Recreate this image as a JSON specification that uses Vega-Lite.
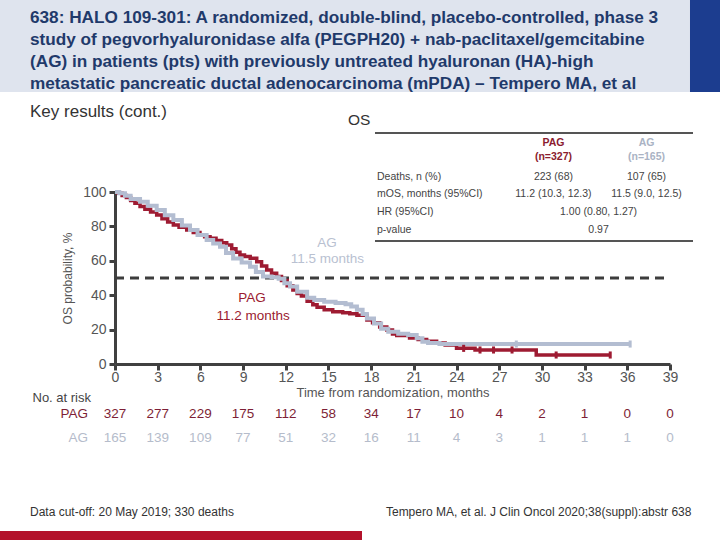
{
  "$schema": "https://vega.github.io/schema/vega-lite/v6.json",
  "width": 555,
  "height": 172,
  "autosize": {"type": "none"},
  "padding": {"left": 115, "top": 192, "right": 50, "bottom": 176},
  "background": "white",
  "config": {"view": {"stroke": null}, "font": "Liberation Sans"},
  "encoding": {
    "x": {"field": "x", "type": "quantitative", "scale": {"domain": [0, 39], "nice": false, "zero": false},
      "axis": {"values": [0, 3, 6, 9, 12, 15, 18, 21, 24, 27, 30, 33, 36, 39], "title": "Time from randomization, months", "grid": false,
        "domainColor": "#404040", "domainWidth": 3, "tickColor": "#404040", "tickWidth": 3, "tickSize": 6,
        "labelFont": "Liberation Sans", "labelFontSize": 14, "labelColor": "#555555", "labelPadding": 0, "labelFlush": false,
        "titleFont": "Liberation Sans", "titleFontSize": 13, "titleFontWeight": "normal", "titleColor": "#555555", "titlePadding": 2}},
    "y": {"field": "y", "type": "quantitative", "scale": {"domain": [0, 100], "nice": false},
      "axis": {"values": [0, 20, 40, 60, 80, 100], "title": "OS probability, %", "grid": false,
        "domainColor": "#404040", "domainWidth": 3, "tickColor": "#404040", "tickWidth": 3, "tickSize": 6,
        "labelFont": "Liberation Sans", "labelFontSize": 14, "labelColor": "#555555", "labelPadding": 3,
        "titleFont": "Liberation Sans", "titleFontSize": 12, "titleFontWeight": "normal", "titleColor": "#555555", "titlePadding": 8}}
  },
  "layer": [
    {"data": {"values": [{"x": -8.081, "x2": 40.405, "y": 158.14, "y2": 211.63}]},
     "mark": {"type": "rect", "color": "#dfe4ee", "clip": false},
     "encoding": {"x2": {"field": "x2"}, "y2": {"field": "y2"}}},
    {"data": {"values": [{"x": 40.405, "x2": 42.514, "y": 158.14, "y2": 211.63}]},
     "mark": {"type": "rect", "color": "#1c3d8f", "clip": false},
     "encoding": {"x2": {"field": "x2"}, "y2": {"field": "y2"}}},
    {"data": {"values": [
      {"x": -5.973, "y": 201.16, "text": "638: HALO 109-301: A randomized, double-blind, placebo-controlled, phase 3"},
      {"x": -5.973, "y": 188.37, "text": "study of pegvorhyaluronidase alfa (PEGPH20) + nab-paclitaxel/gemcitabine"},
      {"x": -5.973, "y": 175.58, "text": "(AG) in patients (pts) with previously untreated hyaluronan (HA)-high"},
      {"x": -5.973, "y": 162.79, "text": "metastatic pancreatic ductal adenocarcinoma (mPDA) – Tempero MA, et al"}]},
     "mark": {"type": "text", "align": "left", "baseline": "middle", "fontSize": 17.2, "fontWeight": "bold", "color": "#1f3a6b", "clip": false},
     "encoding": {"text": {"field": "text"}}},
    {"data": {"values": [{"x": -5.973, "y": 146.51, "text": "Key results (cont.)"}]},
     "mark": {"type": "text", "align": "left", "baseline": "middle", "fontSize": 17, "color": "#333333", "clip": false},
     "encoding": {"text": {"field": "text"}}},
    {"data": {"values": [{"x": 16.373, "y": 141.86, "text": "OS"}]},
     "mark": {"type": "text", "align": "left", "baseline": "middle", "fontSize": 15.5, "color": "#333333", "clip": false},
     "encoding": {"text": {"field": "text"}}},
    {"data": {"values": [{"x": 18.27, "x2": 40.616, "y": 134.3}, {"x": 18.27, "x2": 40.616, "y": 71.51}]},
     "mark": {"type": "rule", "color": "#555555", "strokeWidth": 2, "clip": false},
     "encoding": {"x2": {"field": "x2"}}},
    {"data": {"values": [{"x": 30.81, "y": 128.31, "text": "PAG"}, {"x": 30.81, "y": 120.52, "text": "(n=327)"}]},
     "mark": {"type": "text", "align": "center", "baseline": "middle", "fontSize": 10.5, "fontWeight": "bold", "color": "#8b1c2f", "clip": false},
     "encoding": {"text": {"field": "text"}}},
    {"data": {"values": [{"x": 37.35, "y": 128.31, "text": "AG"}, {"x": 37.35, "y": 120.52, "text": "(n=165)"}]},
     "mark": {"type": "text", "align": "center", "baseline": "middle", "fontSize": 10.5, "fontWeight": "bold", "color": "#aab3c4", "clip": false},
     "encoding": {"text": {"field": "text"}}},
    {"data": {"values": [
      {"x": 18.41, "y": 108.9, "text": "Deaths, n (%)"},
      {"x": 18.41, "y": 98.66, "text": "mOS, months (95%CI)"},
      {"x": 18.41, "y": 88.55, "text": "HR (95%CI)"},
      {"x": 18.41, "y": 77.91, "text": "p-value"}]},
     "mark": {"type": "text", "align": "left", "baseline": "middle", "fontSize": 10.5, "color": "#444444", "clip": false},
     "encoding": {"text": {"field": "text"}}},
    {"data": {"values": [
      {"x": 30.81, "y": 108.9, "text": "223 (68)"},
      {"x": 37.35, "y": 108.9, "text": "107 (65)"},
      {"x": 30.81, "y": 98.66, "text": "11.2 (10.3, 12.3)"},
      {"x": 37.35, "y": 98.66, "text": "11.5 (9.0, 12.5)"},
      {"x": 33.98, "y": 88.55, "text": "1.00 (0.80, 1.27)"},
      {"x": 33.98, "y": 77.91, "text": "0.97"}]},
     "mark": {"type": "text", "align": "center", "baseline": "middle", "fontSize": 10.5, "color": "#444444", "clip": false},
     "encoding": {"text": {"field": "text"}}},
    {"data": {"values": [{"x": 14.9, "y": 70.52, "text": "AG"}, {"x": 14.93, "y": 61.05, "text": "11.5 months"}]},
     "mark": {"type": "text", "align": "center", "baseline": "middle", "fontSize": 13.5, "color": "#b9c1d1", "clip": false},
     "encoding": {"text": {"field": "text"}}},
    {"data": {"values": [{"x": 9.63, "y": 38.37, "text": "PAG"}, {"x": 9.7, "y": 27.91, "text": "11.2 months"}]},
     "mark": {"type": "text", "align": "center", "baseline": "middle", "fontSize": 13.5, "color": "#9b1b30", "clip": false},
     "encoding": {"text": {"field": "text"}}},
    {"data": {"values": [{"x": 0, "x2": 38.8, "y": 50}]},
     "mark": {"type": "rule", "color": "#3d3d3d", "strokeWidth": 3, "strokeDash": [9, 6], "clip": false},
     "encoding": {"x2": {"field": "x2"}}},
    {"data": {"values": [
      {"x": 0, "y": 100}, {"x": 0.2, "y": 99.3}, {"x": 0.5, "y": 98}, {"x": 0.8, "y": 96.8}, {"x": 1.1, "y": 95}, {"x": 1.4, "y": 93.5},
      {"x": 1.76, "y": 91.5}, {"x": 2.1, "y": 90}, {"x": 2.5, "y": 88.4}, {"x": 2.93, "y": 86.6}, {"x": 3.3, "y": 84.5}, {"x": 3.7, "y": 82.5},
      {"x": 4.1, "y": 80.8}, {"x": 4.5, "y": 79.5}, {"x": 5.04, "y": 77.9}, {"x": 5.5, "y": 76.5}, {"x": 5.97, "y": 75}, {"x": 6.3, "y": 74},
      {"x": 6.68, "y": 73.1}, {"x": 7.1, "y": 71.8}, {"x": 7.5, "y": 70.5}, {"x": 7.85, "y": 69.2}, {"x": 8.2, "y": 67}, {"x": 8.5, "y": 65},
      {"x": 8.78, "y": 63.4}, {"x": 9.1, "y": 62.5}, {"x": 9.5, "y": 61.5}, {"x": 9.96, "y": 59.5}, {"x": 10.3, "y": 57}, {"x": 10.66, "y": 54.7},
      {"x": 11.0, "y": 52.8}, {"x": 11.36, "y": 50.8}, {"x": 11.7, "y": 48.5}, {"x": 12.1, "y": 45.5}, {"x": 12.5, "y": 43}, {"x": 12.8, "y": 41},
      {"x": 13.1, "y": 39.5}, {"x": 13.5, "y": 36.5}, {"x": 13.9, "y": 34.5}, {"x": 14.2, "y": 33}, {"x": 14.7, "y": 31.5}, {"x": 15.3, "y": 30.4},
      {"x": 16.0, "y": 29.8}, {"x": 16.5, "y": 29.2}, {"x": 17.0, "y": 28.3}, {"x": 17.7, "y": 25.6}, {"x": 18.1, "y": 24}, {"x": 18.6, "y": 21.5},
      {"x": 19.1, "y": 19.8}, {"x": 19.5, "y": 17.5}, {"x": 19.8, "y": 16.5}, {"x": 20.7, "y": 15.1}, {"x": 21.3, "y": 14.2}, {"x": 21.9, "y": 13.2},
      {"x": 22.6, "y": 12.2}, {"x": 23.2, "y": 11.05}, {"x": 24.0, "y": 9.1}, {"x": 25.3, "y": 8.14}, {"x": 29.6, "y": 5.23}, {"x": 34.8, "y": 5.23}]},
     "mark": {"type": "line", "interpolate": "step-after", "color": "#9e1b32", "strokeWidth": 3.5, "clip": false}},
    {"data": {"values": [
      {"x": 0, "y": 100}, {"x": 0.3, "y": 99.3}, {"x": 0.7, "y": 97.8}, {"x": 1.1, "y": 96}, {"x": 1.76, "y": 94.4}, {"x": 2.3, "y": 92},
      {"x": 2.93, "y": 89.5}, {"x": 3.5, "y": 86.5}, {"x": 4.1, "y": 83.7}, {"x": 4.7, "y": 80.5}, {"x": 5.27, "y": 77.9}, {"x": 5.8, "y": 75},
      {"x": 6.44, "y": 72.1}, {"x": 6.9, "y": 70}, {"x": 7.38, "y": 68.2}, {"x": 7.8, "y": 64.5}, {"x": 8.3, "y": 61.4}, {"x": 8.9, "y": 59},
      {"x": 9.49, "y": 56.6}, {"x": 9.9, "y": 53.5}, {"x": 10.4, "y": 50.8}, {"x": 11.0, "y": 50.4}, {"x": 11.5, "y": 49.5}, {"x": 11.9, "y": 47},
      {"x": 12.3, "y": 45}, {"x": 12.8, "y": 42}, {"x": 13.5, "y": 38.5}, {"x": 14.0, "y": 37.2}, {"x": 14.7, "y": 36.2}, {"x": 15.5, "y": 35.5},
      {"x": 16.2, "y": 34.8}, {"x": 16.6, "y": 33.5}, {"x": 17.0, "y": 31.5}, {"x": 17.4, "y": 29}, {"x": 17.7, "y": 26.5}, {"x": 18.2, "y": 23.5},
      {"x": 18.7, "y": 20.5}, {"x": 19.2, "y": 18.7}, {"x": 19.9, "y": 17.6}, {"x": 20.6, "y": 16.9}, {"x": 21.2, "y": 15}, {"x": 21.6, "y": 13},
      {"x": 22.0, "y": 12.2}, {"x": 22.8, "y": 11.6}, {"x": 36.2, "y": 11.6}]},
     "mark": {"type": "line", "interpolate": "step-after", "color": "#b3bdd1", "strokeWidth": 4, "clip": false}},
    {"data": {"values": [
      {"x": 24.5, "y": 9.1}, {"x": 25.65, "y": 8.14}, {"x": 26.6, "y": 8.14}, {"x": 27.9, "y": 8.14}, {"x": 31.0, "y": 5.23}, {"x": 34.8, "y": 5.23}]},
     "mark": {"type": "point", "shape": "M0,-1L0,1", "size": 50, "filled": false, "stroke": "#9e1b32", "strokeWidth": 3, "opacity": 1, "clip": false}},
    {"data": {"values": [{"x": 28.2, "y": 11.6}, {"x": 36.2, "y": 11.6}]},
     "mark": {"type": "point", "shape": "M0,-1L0,1", "size": 50, "filled": false, "stroke": "#b3bdd1", "strokeWidth": 3, "opacity": 1, "clip": false}},
    {"data": {"values": [
      {"x": 0, "y": -29.07, "text": "327"}, {"x": 3, "y": -29.07, "text": "277"}, {"x": 6, "y": -29.07, "text": "229"}, {"x": 9, "y": -29.07, "text": "175"},
      {"x": 12, "y": -29.07, "text": "112"}, {"x": 15, "y": -29.07, "text": "58"}, {"x": 18, "y": -29.07, "text": "34"}, {"x": 21, "y": -29.07, "text": "17"},
      {"x": 24, "y": -29.07, "text": "10"}, {"x": 27, "y": -29.07, "text": "4"}, {"x": 30, "y": -29.07, "text": "2"}, {"x": 33, "y": -29.07, "text": "1"},
      {"x": 36, "y": -29.07, "text": "0"}, {"x": 39, "y": -29.07, "text": "0"}]},
     "mark": {"type": "text", "align": "center", "baseline": "middle", "fontSize": 13.5, "color": "#7e1f36", "clip": false},
     "encoding": {"text": {"field": "text"}}},
    {"data": {"values": [
      {"x": 0, "y": -43.02, "text": "165"}, {"x": 3, "y": -43.02, "text": "139"}, {"x": 6, "y": -43.02, "text": "109"}, {"x": 9, "y": -43.02, "text": "77"},
      {"x": 12, "y": -43.02, "text": "51"}, {"x": 15, "y": -43.02, "text": "32"}, {"x": 18, "y": -43.02, "text": "16"}, {"x": 21, "y": -43.02, "text": "11"},
      {"x": 24, "y": -43.02, "text": "4"}, {"x": 27, "y": -43.02, "text": "3"}, {"x": 30, "y": -43.02, "text": "1"}, {"x": 33, "y": -43.02, "text": "1"},
      {"x": 36, "y": -43.02, "text": "1"}, {"x": 39, "y": -43.02, "text": "0"}]},
     "mark": {"type": "text", "align": "center", "baseline": "middle", "fontSize": 13.5, "color": "#b5bccb", "clip": false},
     "encoding": {"text": {"field": "text"}}},
    {"data": {"values": [{"x": -1.686, "y": -19.77, "text": "No. at risk"}]},
     "mark": {"type": "text", "align": "right", "baseline": "middle", "fontSize": 13, "color": "#444444", "clip": false},
     "encoding": {"text": {"field": "text"}}},
    {"data": {"values": [{"x": -1.897, "y": -29.07, "text": "PAG"}]},
     "mark": {"type": "text", "align": "right", "baseline": "middle", "fontSize": 13.5, "color": "#7e1f36", "clip": false},
     "encoding": {"text": {"field": "text"}}},
    {"data": {"values": [{"x": -1.897, "y": -43.02, "text": "AG"}]},
     "mark": {"type": "text", "align": "right", "baseline": "middle", "fontSize": 13.5, "color": "#b5bccb", "clip": false},
     "encoding": {"text": {"field": "text"}}},
    {"data": {"values": [
      {"x": -5.973, "y": -86.05, "text": "Data cut-off: 20 May 2019; 330 deaths"},
      {"x": 19.04, "y": -86.05, "text": "Tempero MA, et al. J Clin Oncol 2020;38(suppl):abstr 638"}]},
     "mark": {"type": "text", "align": "left", "baseline": "middle", "fontSize": 12, "color": "#333333", "clip": false},
     "encoding": {"text": {"field": "text"}}},
    {"data": {"values": [{"x": -8.081, "x2": 17.357, "y": -97.09, "y2": -102.33}]},
     "mark": {"type": "rect", "color": "#b3122b", "clip": false},
     "encoding": {"x2": {"field": "x2"}, "y2": {"field": "y2"}}}
  ]
}
